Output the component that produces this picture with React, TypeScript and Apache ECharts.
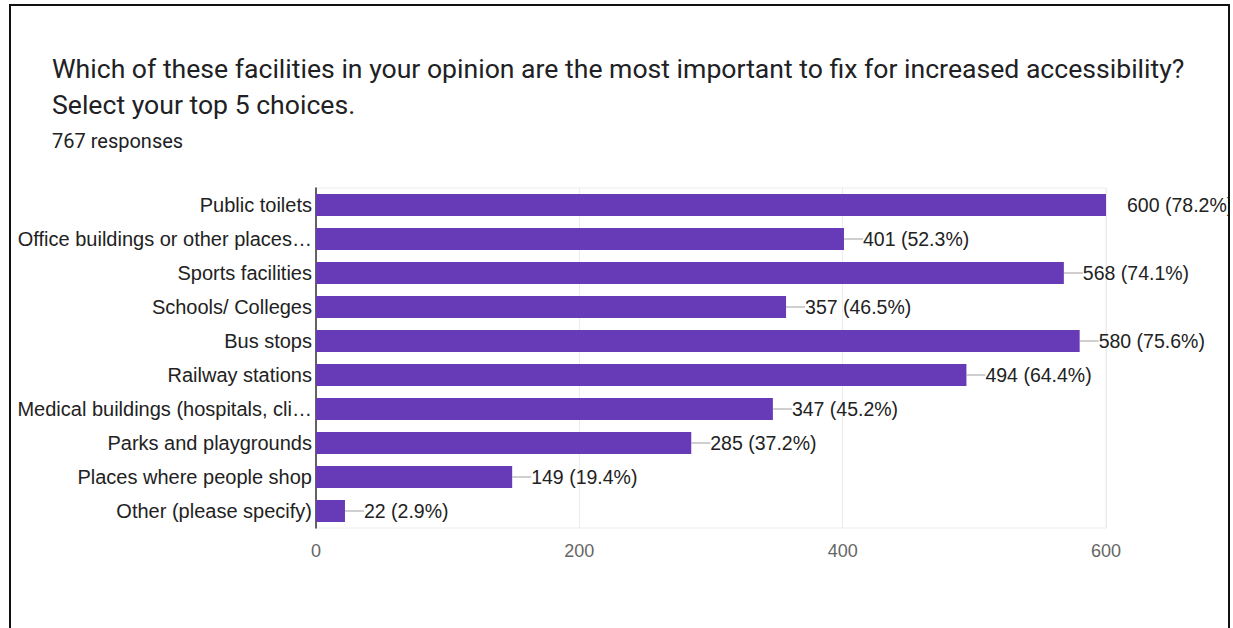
import React, { useEffect, useRef } from "react";
import * as echarts from "echarts";

const titleLine1 = "Which of these facilities in your opinion are the most important to fix for increased accessibility?";
const titleLine2 = "Select your top 5 choices.";
const responsesText = "767 responses";

const categories = [
  "Public toilets",
  "Office buildings or other places…",
  "Sports facilities",
  "Schools/ Colleges",
  "Bus stops",
  "Railway stations",
  "Medical buildings (hospitals, cli…",
  "Parks and playgrounds",
  "Places where people shop",
  "Other (please specify)",
];
const counts = [600, 401, 568, 357, 580, 494, 347, 285, 149, 22];
const percents = ["78.2", "52.3", "74.1", "46.5", "75.6", "64.4", "45.2", "37.2", "19.4", "2.9"];
const xTicks = { min: 0, max: 600, interval: 200 };

export default function App() {
  const ref = useRef<HTMLDivElement>(null);
  useEffect(() => {
    if (!ref.current) return;
    const chart = echarts.init(ref.current, null, { renderer: "svg" });
    const chartFont = "Liberation Sans, Arial, sans-serif";
    chart.setOption({
      animation: false,
      backgroundColor: "#ffffff",
      title: [
        {
          text: titleLine1 + "\n" + titleLine2,
          left: 47,
          top: 45,
          textStyle: {
            fontFamily: "Roboto, sans-serif",
            fontSize: 26.6,
            fontWeight: "normal",
            color: "#202124",
            lineHeight: 36,
          },
        },
        {
          text: responsesText,
          left: 47,
          top: 126,
          textStyle: {
            fontFamily: "Roboto, sans-serif",
            fontSize: 20,
            fontWeight: "normal",
            color: "#202124",
            lineHeight: 20,
          },
        },
      ],
      graphic: [
        {
          type: "rect",
          shape: { x: 1229, y: 0, width: 10, height: 628 },
          style: { fill: "#ffffff" },
          silent: true,
          z: 100,
        },
        {
          type: "polyline",
          shape: { points: [[10, 628], [10, 5], [1229, 5], [1229, 628]] },
          style: { stroke: "#111", lineWidth: 2, fill: "none" },
          silent: true,
          z: 101,
        },
      ],
      grid: {
        left: 316,
        right: 127,
        top: 188,
        height: 340,
        show: true,
        borderColor: "#ececec",
        borderWidth: 1,
      },
      xAxis: {
        type: "value",
        min: xTicks.min,
        max: xTicks.max,
        interval: xTicks.interval,
        axisLine: { show: false },
        axisTick: { show: false },
        splitLine: { show: true, lineStyle: { color: "#ececec", width: 1 } },
        axisLabel: {
          color: "#666",
          fontSize: 18,
          fontFamily: chartFont,
          margin: 14,
        },
      },
      yAxis: {
        type: "category",
        data: categories,
        inverse: true,
        axisLine: { show: true, lineStyle: { color: "#333", width: 1.5 } },
        axisTick: { show: false },
        axisLabel: {
          color: "#222",
          fontSize: 20,
          fontFamily: chartFont,
          margin: 4,
        },
      },
      series: [
        {
          type: "bar",
          data: counts,
          barWidth: 22,
          itemStyle: { color: "#673ab7" },
          label: {
            show: true,
            position: "right",
            distance: 0,
            formatter: (p: any) => {
              const txt = counts[p.dataIndex] + " (" + percents[p.dataIndex] + "%)";
              return (p.dataIndex === 0 ? "{gap|}" : "{line|}") + "{val|" + txt + "}";
            },
            rich: {
              line: { width: 19, height: 1, backgroundColor: "#9e9e9e" },
              gap: { width: 21, height: 1 },
              val: {
                color: "#222",
                fontSize: 19.5,
                fontFamily: chartFont,
              },
            },
          },
        },
      ],
    });
    return () => chart.dispose();
  }, []);
  return (
    <div
      ref={ref}
      style={{ position: "fixed", left: 0, top: 0, width: 1233, height: 628 }}
    />
  );
}
